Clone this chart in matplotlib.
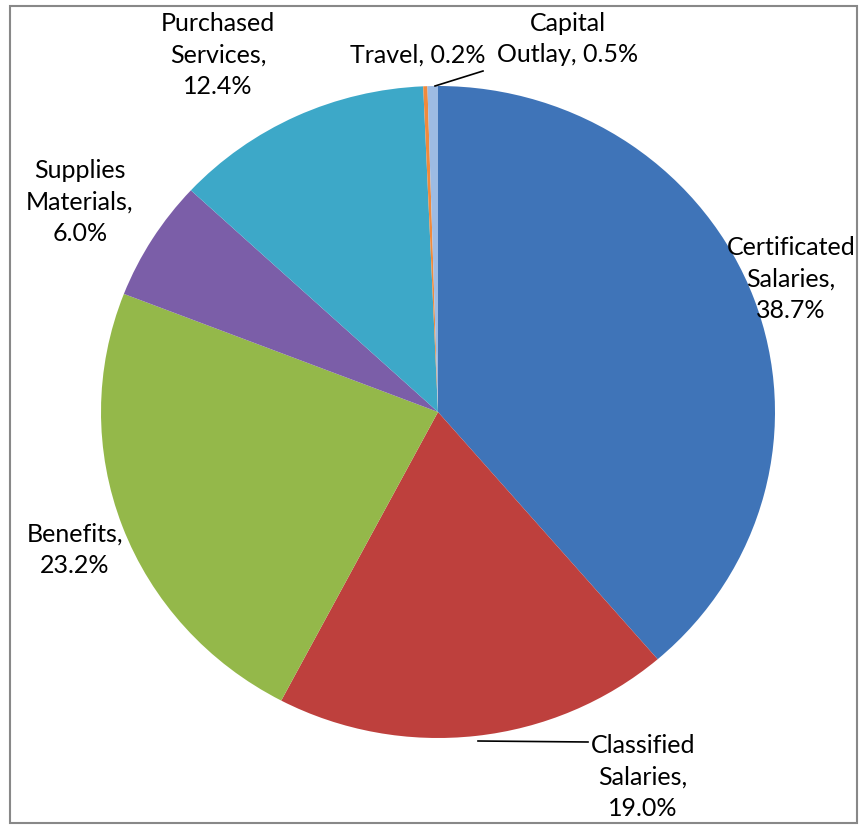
import matplotlib.pyplot as plt
from matplotlib.patches import Rectangle
from matplotlib.lines import Line2D

# expenditure shares (%), clockwise from 12 o'clock
categories = ["Certificated\nSalaries", "Classified\nSalaries", "Benefits",
              "Supplies\nMaterials", "Purchased\nServices", "Travel", "Capital\nOutlay"]
shares = [38.7, 19.0, 23.2, 6.0, 12.4, 0.2, 0.5]
colors = ["#3F74B8", "#BE403D", "#94B84A", "#7B5EA8", "#3DA8C8", "#F08A3C", "#9DBBE3"]

W, H = 867, 826
fig = plt.figure(figsize=(W / 100, H / 100), dpi=100)
plt.rcParams['font.family'] = ['Lato', 'DejaVu Sans']

# pie is slightly wider than tall in the original, so use an unequal-aspect axes
cx, cy, rx, ry = 438, 412, 337, 326
ax = fig.add_axes([(cx - rx) / W, (H - cy - ry) / H, 2 * rx / W, 2 * ry / H])
ax.pie(shares, colors=colors, startangle=90, counterclock=False,
       wedgeprops=dict(linewidth=0))
ax.set_xlim(-1, 1)
ax.set_ylim(-1, 1)
ax.set_aspect('auto')
ax.axis('off')

# labels, positioned in pixel coordinates (from the top-left)
label_pos = [(791, 279), (643, 777), (75, 550), (80, 202), (218, 55), (418, 55), (568, 39)]
for name, val, (px, py) in zip(categories, shares, label_pos):
    if name == "Capital\nOutlay":
        txt = "Capital\nOutlay, %.1f%%" % val
    elif name == "Travel":
        txt = "Travel, %.1f%%" % val
    else:
        txt = "%s,\n%.1f%%" % (name, val)
    fig.text(px / W, 1 - py / H, txt, ha='center', va='center',
             fontsize=18, color='black', linespacing=1.45)

# leader lines
for (x0, y0), (x1, y1) in [((478, 741), (588, 742)), ((435, 86), (483, 71))]:
    fig.add_artist(Line2D([x0 / W, x1 / W], [1 - y0 / H, 1 - y1 / H],
                          color='black', linewidth=1.2))

# chart border
fig.add_artist(Rectangle((10 / W, 1 - 823 / H), 847 / W, 817 / H, fill=False,
                         edgecolor='#888888', linewidth=1.5,
                         transform=fig.transFigure))

plt.savefig("out.png", dpi=100)
plt.close()
